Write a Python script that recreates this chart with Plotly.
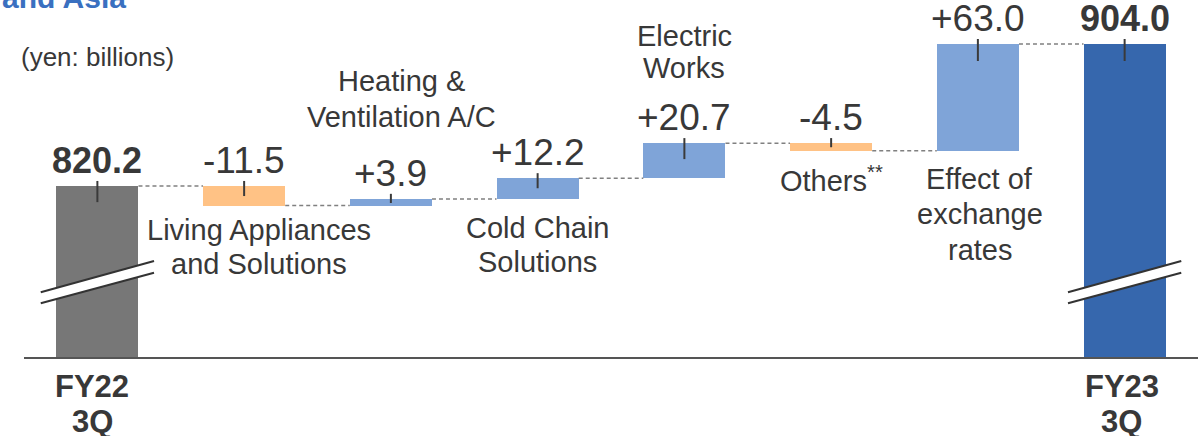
import plotly.graph_objects as go

# ---------------- data ----------------
categories = ["FY22 3Q", "Living Appliances and Solutions", "Heating & Ventilation A/C",
              "Cold Chain Solutions", "Electric Works", "Others**",
              "Effect of exchange rates", "FY23 3Q"]
measures = ["absolute", "relative", "relative", "relative", "relative", "relative",
            "relative", "total"]
values = [820.2, -11.5, 3.9, 12.2, 20.7, -4.5, 63.0, 904.0]
value_labels = ["820.2", "-11.5", "+3.9", "+12.2", "+20.7", "-4.5", "+63.0", "904.0"]
cat_label_lines = [[], ["Living Appliances", "and Solutions"], ["Heating &", "Ventilation A/C"],
                   ["Cold Chain", "Solutions"], ["Electric", "Works"],
                   ["Others<sup>**</sup>"], ["Effect of", "exchange", "rates"], []]
tick_lines = {0: ["FY22", "3Q"], 7: ["FY23", "3Q"]}
# small vertical marker lines at bar tops (units above / below the bar top)
marker_up = [3.0, 3.0, 3.0, 3.0, 3.0, 3.0, 3.0, 3.0]
marker_down = [9.5, 5.9, 2.4, 5.9, 9.4, 2.4, 10.0, 10.0]
unit_note = "(yen: billions)"
title_fragment = "and Asia"

# ---------------- styles ----------------
FONT = "Arial, Liberation Sans, sans-serif"
C_GRAY = "#777777"
C_UP = "#7FA4D8"
C_DOWN = "#FFC285"
C_TOTAL_END = "#3667AD"
TXT = "#383838"
BAR_W = 0.56
Y_MIN, Y_MAX = 719.3, 930.0
W, H = 1198, 436
ML, MR, MT, MB = 24, 0, 0, 79
PW, PH = W - ML - MR, H - MT - MB


def px_to_paper(px, py):
    return (px - ML) / PW, (H - MB - py) / PH


# label placement (style): side, xshift px, offset px of nearest line centre, line pitch px
label_place = [None, ("below", 15, 24.5, 34), ("above", 11, 82, 36), ("below", 0, 29, 34),
               ("above", 0, 75, 32.5), ("below", 0, 28, 34), ("below", 2, 28, 35.5), None]

# ---------------- derived geometry from data ----------------
bases, heights, tops, bottoms, colors, levels = [], [], [], [], [], []
level = 0.0
for m, v in zip(measures, values):
    if m in ("absolute", "total"):
        level = v
        bases.append(0)
        heights.append(v)
        tops.append(v)
        bottoms.append(0)
        colors.append(C_GRAY if m == "absolute" else C_TOTAL_END)
    else:
        start = level
        level = level + v
        bases.append(start)
        heights.append(v)
        tops.append(max(start, level))
        bottoms.append(min(start, level))
        colors.append(C_UP if v > 0 else C_DOWN)
    levels.append(level)

x_idx = list(range(len(values)))

fig = go.Figure()
fig.add_trace(go.Bar(x=x_idx, y=heights, base=bases, width=BAR_W,
                     marker=dict(color=colors, line=dict(width=0)),
                     hoverinfo="skip", showlegend=False))

# connectors
cx, cy = [], []
for i in range(len(values) - 1):
    cx += [i + BAR_W / 2, i + 1 - BAR_W / 2, None]
    cy += [levels[i], levels[i], None]
fig.add_trace(go.Scatter(x=cx, y=cy, mode="lines",
                         line=dict(color="#808080", width=1.5, dash="4px,3px"),
                         hoverinfo="skip", showlegend=False))

# small vertical marks at bar tops
fig.add_trace(go.Scatter(x=x_idx, y=tops, mode="markers",
                         marker=dict(size=1, opacity=0),
                         error_y=dict(type="data", symmetric=False, array=marker_up,
                                      arrayminus=marker_down, width=0, thickness=2,
                                      color="#3a3a3a"),
                         hoverinfo="skip", showlegend=False))

annotations = []
for i in x_idx:
    bold = measures[i] in ("absolute", "total")
    annotations.append(dict(x=i, y=tops[i], xref="x", yref="y", yanchor="bottom",
                            yshift=3, showarrow=False,
                            text=("<b>%s</b>" % value_labels[i]) if bold else value_labels[i],
                            font=dict(family=FONT, size=37 if not bold else 36, color=TXT)))
    if label_place[i]:
        side, xs, off, pitch = label_place[i]
        lines = cat_label_lines[i]
        n = len(lines)
        for k, line in enumerate(lines):
            if side == "below":
                ys = -(off + k * pitch)
                yref_val = bottoms[i]
            else:
                ys = off + (n - 1 - k) * pitch
                yref_val = tops[i]
            annotations.append(dict(x=i, y=yref_val, xref="x", yref="y",
                                    yanchor="middle", xshift=xs, yshift=ys,
                                    showarrow=False, text=line,
                                    font=dict(family=FONT, size=29, color=TXT)))

# category tick labels (two bold lines under the axis)
tick_xshift = {0: -5, 7: -3}
tick_line_py = [386.5, 421.5]
for i, lines in tick_lines.items():
    for k, line in enumerate(lines):
        _, py = px_to_paper(0, tick_line_py[k])
        annotations.append(dict(x=i, y=py, xref="x", yref="paper", yanchor="middle",
                                xshift=tick_xshift[i], showarrow=False,
                                text="<b>%s</b>" % line,
                                font=dict(family=FONT, size=31, color=TXT)))

ux, uy = px_to_paper(19, 57)
annotations.append(dict(x=ux, y=uy, xref="paper", yref="paper", xanchor="left",
                        yanchor="middle", text=unit_note, showarrow=False,
                        font=dict(family=FONT, size=26, color=TXT)))

tx, ty = px_to_paper(0, 16)
annotations.append(dict(x=tx, y=ty, xref="paper", yref="paper", xanchor="left",
                        yanchor="bottom", text="<b>%s</b>" % title_fragment,
                        showarrow=False, font=dict(family=FONT, size=30, color="#3A70C0")))

# break marks on the absolute / total bars
shapes = []
for i in x_idx:
    if measures[i] in ("absolute", "total"):
        x0, x1 = i - 0.386, i + 0.386
        up0, up1 = 757.5, 776.0
        lo0, lo1 = 751.0, 769.0
        shapes.append(dict(type="path", xref="x", yref="y", layer="above",
                           path="M %f,%f L %f,%f L %f,%f L %f,%f Z" % (x0, lo0, x1, lo1, x1, up1, x0, up0),
                           fillcolor="white", line=dict(width=0)))
        shapes.append(dict(type="line", xref="x", yref="y", layer="above",
                           x0=x0, y0=up0, x1=x1, y1=up1, line=dict(color="#333333", width=2)))
        shapes.append(dict(type="line", xref="x", yref="y", layer="above",
                           x0=x0, y0=lo0, x1=x1, y1=lo1, line=dict(color="#333333", width=2)))

fig.update_layout(
    width=W, height=H,
    margin=dict(l=ML, r=MR, t=MT, b=MB, autoexpand=False),
    paper_bgcolor="white", plot_bgcolor="white",
    shapes=shapes, annotations=annotations,
    xaxis=dict(range=[-0.5, 7.5], showticklabels=False, automargin=False,
               showgrid=False, zeroline=False, showline=True, linecolor="#555555",
               linewidth=2, ticks="", fixedrange=True),
    yaxis=dict(range=[Y_MIN, Y_MAX], visible=False, fixedrange=True, automargin=False),
    bargap=0,
)

fig.write_html("out.html", config={"displayModeBar": False},
               post_script="document.body.style.margin='0px';")
